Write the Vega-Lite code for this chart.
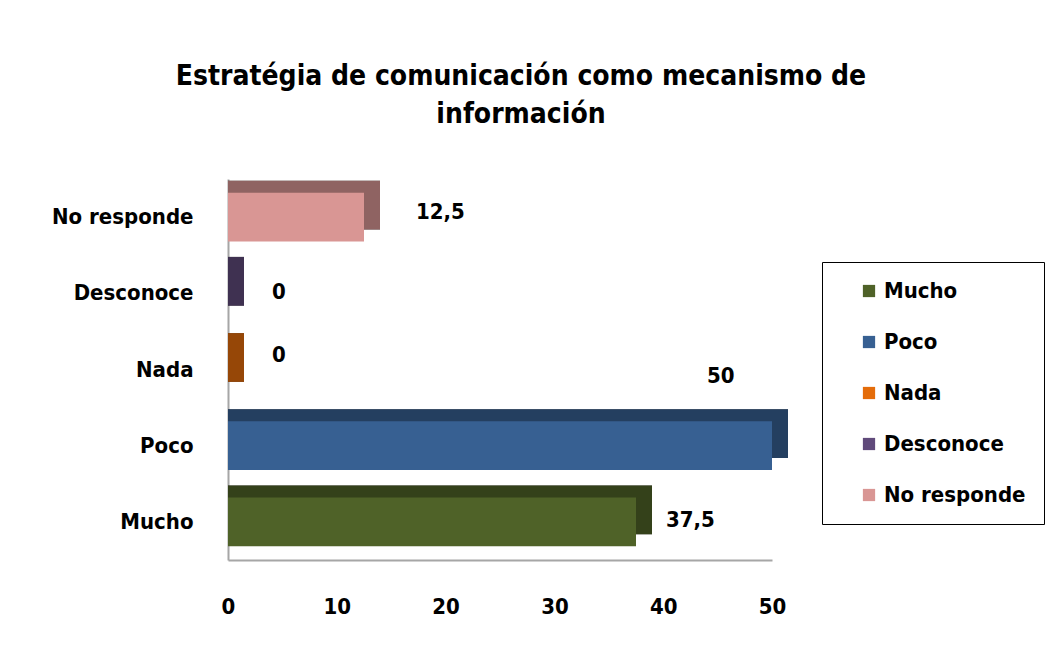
{
  "$schema": "https://vega.github.io/schema/vega-lite/v6.json",
  "width": 544,
  "height": 381,
  "autosize": {"type": "none"},
  "padding": {"left": 228, "top": 179, "right": 280, "bottom": 97},
  "background": "white",
  "config": {
    "view": {"stroke": null},
    "font": "DejaVu Sans Condensed, sans-serif",
    "locale": {"number": {"decimal": ",", "thousands": ".", "grouping": [3], "currency": ["", " €"]}}
  },
  "title": {
    "text": ["Estratégia de comunicación como mecanismo de", "información"],
    "fontSize": 28,
    "fontWeight": "bold",
    "font": "DejaVu Sans Condensed, sans-serif",
    "color": "#000000",
    "anchor": "middle",
    "dx": 21,
    "offset": 50,
    "lineHeight": 38
  },
  "data": {
    "values": [
      {"categoria": "Mucho", "valor": 37.5},
      {"categoria": "Poco", "valor": 50},
      {"categoria": "Nada", "valor": 0},
      {"categoria": "Desconoce", "valor": 0},
      {"categoria": "No responde", "valor": 12.5}
    ]
  },
  "encoding": {
    "y": {
      "field": "categoria",
      "type": "nominal",
      "sort": ["No responde", "Desconoce", "Nada", "Poco", "Mucho"],
      "scale": {"paddingInner": 0.36, "paddingOuter": 0.18},
      "axis": {
        "title": null,
        "ticks": false,
        "domainColor": "#A6A6A6",
        "domainWidth": 2,
        "labelFontSize": 22,
        "labelFontWeight": "bold",
        "labelColor": "#000000",
        "labelPadding": 35
      }
    },
    "x": {
      "field": "valor",
      "type": "quantitative",
      "scale": {"domain": [0, 50], "nice": false},
      "axis": {
        "title": null,
        "values": [0, 10, 20, 30, 40, 50],
        "grid": false,
        "ticks": false,
        "domainColor": "#A6A6A6",
        "domainWidth": 2,
        "labelFontSize": 22,
        "labelFontWeight": "bold",
        "labelColor": "#000000",
        "labelPadding": 36,
        "labelFlush": false
      }
    }
  },
  "layer": [
    {
      "mark": {"type": "bar", "color": "#000000", "xOffset": 16, "yOffset": -12, "y2Offset": -12},
      "encoding": {"x2": {"datum": 0}}
    },
    {
      "mark": {"type": "bar", "opacity": 0.66, "xOffset": 16, "yOffset": -12, "y2Offset": -12},
      "encoding": {
        "x2": {"datum": 0},
        "color": {
          "field": "categoria",
          "type": "nominal",
          "scale": {
            "domain": ["Mucho", "Poco", "Nada", "Desconoce", "No responde"],
            "range": ["#4F6228", "#376092", "#E46C0A", "#604A7B", "#D99694"]
          },
          "legend": {
            "title": null,
            "orient": "none",
            "legendX": 594,
            "legendY": 83,
            "strokeColor": "#000000",
            "padding": 18,
            "symbolOffset": 18,
            "symbolType": "square",
            "symbolSize": 150,
            "symbolStrokeWidth": 0,
            "symbolOpacity": 1,
            "labelFontSize": 22,
            "labelFontWeight": "bold",
            "labelColor": "#000000",
            "labelOffset": 4,
            "rowPadding": 29
          }
        }
      }
    },
    {
      "mark": {"type": "bar"},
      "encoding": {
        "color": {
          "field": "categoria",
          "type": "nominal",
          "scale": {
            "domain": ["Mucho", "Poco", "Nada", "Desconoce", "No responde"],
            "range": ["#4F6228", "#376092", "#E46C0A", "#604A7B", "#D99694"]
          },
          "legend": {
            "title": null,
            "orient": "none",
            "legendX": 594,
            "legendY": 83,
            "strokeColor": "#000000",
            "padding": 18,
            "symbolOffset": 18,
            "symbolType": "square",
            "symbolSize": 150,
            "symbolStrokeWidth": 0,
            "symbolOpacity": 1,
            "labelFontSize": 22,
            "labelFontWeight": "bold",
            "labelColor": "#000000",
            "labelOffset": 4,
            "rowPadding": 29
          }
        }
      }
    },
    {
      "transform": [{"filter": "datum.categoria === 'No responde'"}],
      "mark": {"type": "text", "align": "left", "baseline": "middle", "dx": 52, "dy": -5, "fontSize": 22, "fontWeight": "bold", "color": "#000000"},
      "encoding": {"text": {"field": "valor", "type": "quantitative", "format": "~g"}}
    },
    {
      "transform": [{"filter": "datum.categoria === 'Desconoce'"}],
      "mark": {"type": "text", "align": "left", "baseline": "middle", "dx": 44, "dy": -1, "fontSize": 22, "fontWeight": "bold", "color": "#000000"},
      "encoding": {"text": {"field": "valor", "type": "quantitative", "format": "~g"}}
    },
    {
      "transform": [{"filter": "datum.categoria === 'Nada'"}],
      "mark": {"type": "text", "align": "left", "baseline": "middle", "dx": 44, "dy": -15, "fontSize": 22, "fontWeight": "bold", "color": "#000000"},
      "encoding": {"text": {"field": "valor", "type": "quantitative", "format": "~g"}}
    },
    {
      "transform": [{"filter": "datum.categoria === 'Poco'"}],
      "mark": {"type": "text", "align": "left", "baseline": "middle", "dx": -65, "dy": -70, "fontSize": 22, "fontWeight": "bold", "color": "#000000"},
      "encoding": {"text": {"field": "valor", "type": "quantitative", "format": "~g"}}
    },
    {
      "transform": [{"filter": "datum.categoria === 'Mucho'"}],
      "mark": {"type": "text", "align": "left", "baseline": "middle", "dx": 30, "dy": -2, "fontSize": 22, "fontWeight": "bold", "color": "#000000"},
      "encoding": {"text": {"field": "valor", "type": "quantitative", "format": "~g"}}
    }
  ]
}
